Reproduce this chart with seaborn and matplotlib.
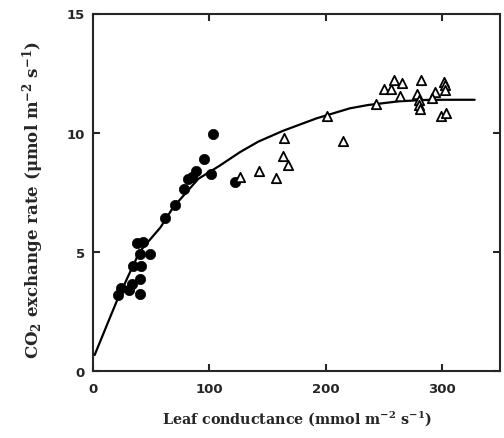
import numpy as np
import pandas as pd
import matplotlib
matplotlib.use("Agg")
import matplotlib.pyplot as plt
import seaborn as sns

# Filled circles
circ_x = [102.8, 95.6, 101.6, 88.8, 84.8, 81.9, 78.2, 70.4, 61.9, 37.5, 42.7, 40.4, 49.2,
          34.6, 41.0, 40.4, 33.5, 24.3, 31.2, 21.2, 40.4, 122.3]
circ_y = [9.96, 8.9, 8.25, 8.41, 8.13, 8.06, 7.64, 6.97, 6.43, 5.38, 5.43, 4.92, 4.9,
          4.42, 4.39, 3.86, 3.64, 3.5, 3.39, 3.2, 3.24, 7.94]

# Open triangles
tri_x = [126.3, 142.6, 157.5, 164.1, 163.8, 167.8, 201.0, 215.0, 243.7, 250.3, 256.6, 258.9,
         266.0, 264.0, 281.8, 279.0, 280.0, 280.4, 281.0, 293.8, 291.8, 301.8, 302.7, 302.7,
         299.0, 303.3]
tri_y = [8.13, 8.41, 8.11, 9.76, 9.02, 8.66, 10.69, 9.66, 11.2, 11.83, 11.83, 12.22,
         12.08, 11.53, 12.21, 11.62, 11.37, 11.16, 10.99, 11.72, 11.44, 12.11, 12.0, 11.79,
         10.69, 10.83]

# Fitted curve
curve_x = [1.4, 12.9, 20.0, 29.5, 40.0, 58.1, 69.0, 90.5, 109.1, 126.3, 142.0, 163.5,
           192.2, 220.8, 236.5, 263.7, 290.0, 328.2]
curve_y = [0.67, 2.04, 2.88, 3.9, 5.0, 6.03, 6.87, 8.06, 8.62, 9.18, 9.62, 10.08,
           10.6, 11.02, 11.16, 11.32, 11.38, 11.38]

x_ticks = [0, 100, 200, 300]
y_ticks = [0, 5, 10, 15]

sns.set_style("ticks")
plt.rcParams['mathtext.fontset'] = 'dejavuserif'
plt.rcParams['mathtext.default'] = 'bf'

fig = plt.figure(figsize=(5.04, 4.39), dpi=100)
ax = fig.add_axes([93/504, 1 - 372/439, (500-93)/504, (372-14.5)/439])

curve_df = pd.DataFrame({"x": curve_x, "y": curve_y})
circ_df = pd.DataFrame({"x": circ_x, "y": circ_y})
tri_df = pd.DataFrame({"x": tri_x, "y": tri_y})

sns.lineplot(data=curve_df, x="x", y="y", sort=False, color="black", lw=1.6, ax=ax, zorder=2)
sns.scatterplot(data=circ_df, x="x", y="y", marker="o", s=55, color="black",
                edgecolor="black", linewidth=0.5, ax=ax, zorder=3)
sns.scatterplot(data=tri_df, x="x", y="y", marker="^", s=45, facecolor="white",
                edgecolor="black", linewidth=1.3, ax=ax, zorder=4)

ax.set_xlim(0, 350)
ax.set_ylim(0, 15)
ax.set_xticks(x_ticks)
ax.set_yticks(y_ticks)
for s in ax.spines.values():
    s.set_linewidth(1.5)
    s.set_visible(True)
ax.tick_params(direction="in", length=5, width=1.5, top=True, right=True,
               labelsize=9.5)
ax.tick_params(axis="x", pad=8)
ax.tick_params(axis="y", pad=6)
for lab in ax.get_xticklabels() + ax.get_yticklabels():
    lab.set_fontweight("bold")
    lab.set_family("DejaVu Sans")

ax.set_xlabel("Leaf conductance (mmol m$^{-2}$ s$^{-1}$)", family="DejaVu Serif",
              fontweight="bold", fontsize=10.3)
ax.set_ylabel("CO$_2$ exchange rate (μmol m$^{-2}$ s$^{-1}$)", family="DejaVu Serif",
              fontweight="bold", fontsize=12)
ax.xaxis.set_label_coords(0.5, -0.105)
ax.yaxis.set_label_coords(-0.115, 0.48)

fig.savefig("out.png", dpi=100)
